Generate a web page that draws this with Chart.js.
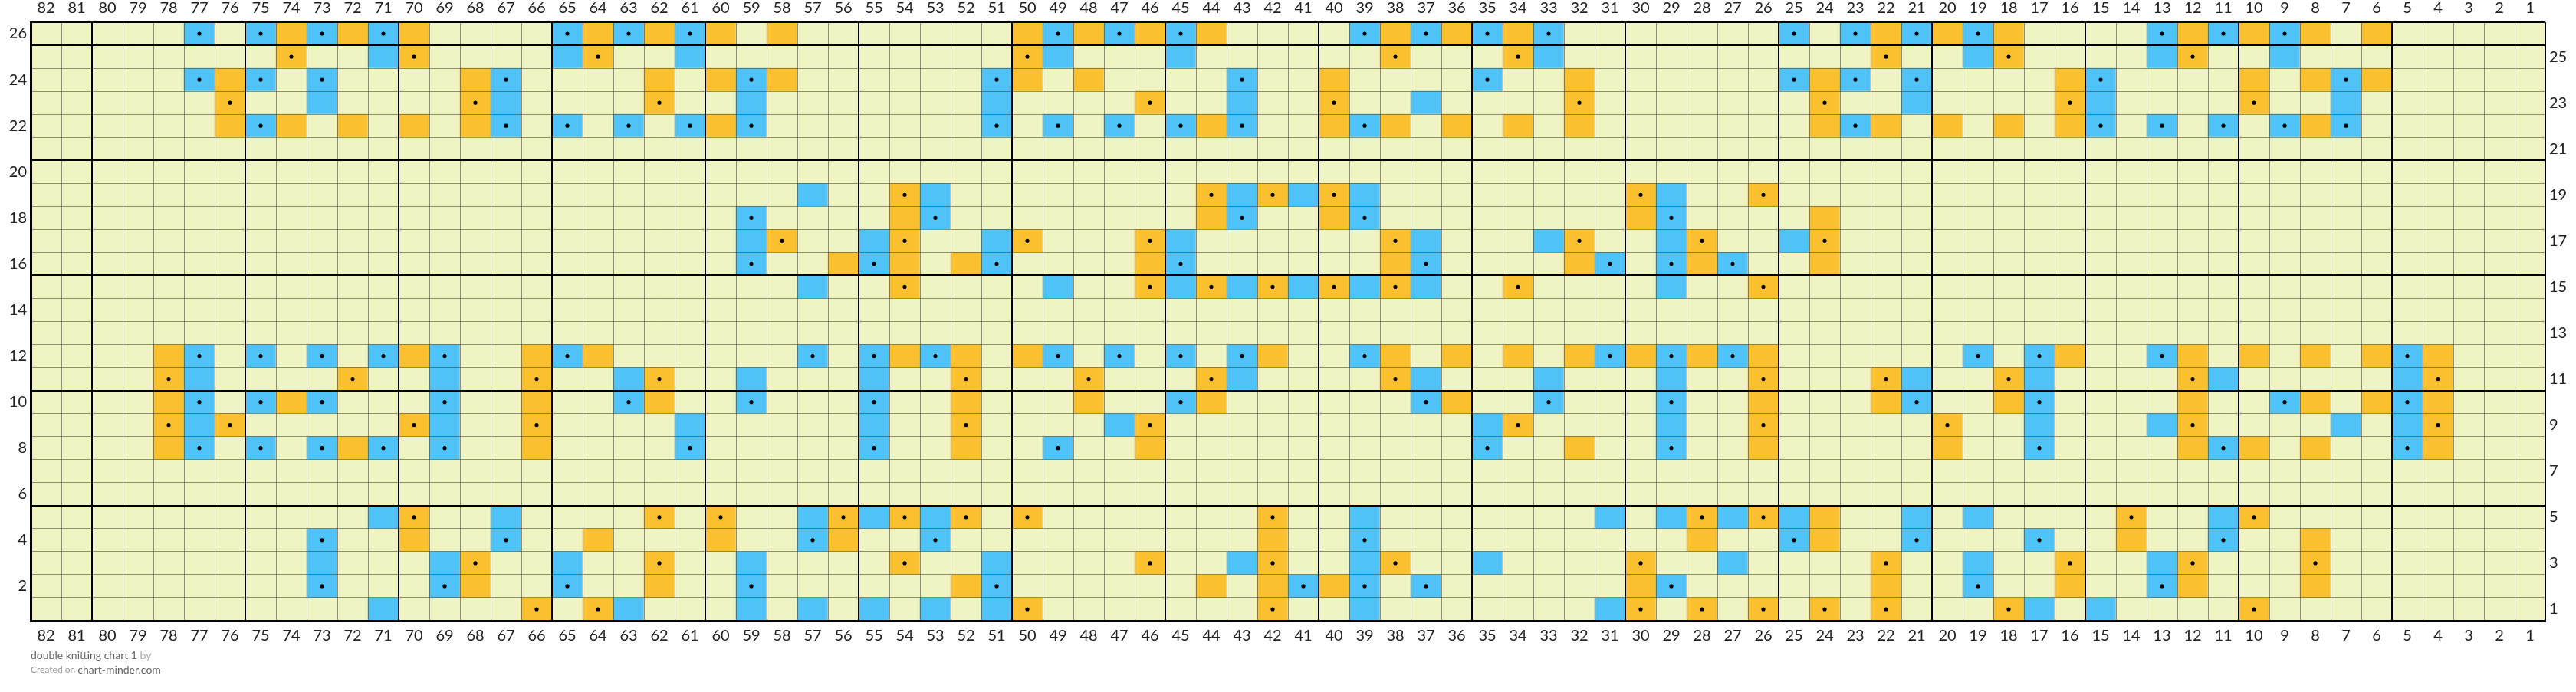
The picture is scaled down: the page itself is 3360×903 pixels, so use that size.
<!DOCTYPE html>
<html>
<head>
<meta charset="utf-8">
<title>double knitting chart 1</title>
<script src="https://cdn.jsdelivr.net/npm/chart.js@4.4.1/dist/chart.umd.min.js"></script>
<style>
  html, body { margin: 0; background: #fff; }
  #wrap { width: 3360px; height: 903px; }
</style>
</head>
<body>
<div id="wrap"><canvas id="chart"></canvas></div>
<script>
// column numbers, left to right
const columns = ["82","81","80","79","78","77","76","75","74","73","72","71","70","69","68","67","66","65","64","63","62",
  "61","60","59","58","57","56","55","54","53","52","51","50","49","48","47","46","45","44","43","42","41",
  "40","39","38","37","36","35","34","33","32","31","30","29","28","27","26","25","24","23","22","21",
  "20","19","18","17","16","15","14","13","12","11","10","9","8","7","6","5","4","3","2","1"];
const leftRowLabels = [26, 24, 22, 20, 18, 16, 14, 12, 10, 8, 6, 4, 2];
const rightRowLabels = [25, 23, 21, 19, 17, 15, 13, 11, 9, 7, 5, 3, 1];

// one string per row, row 1 first. b = blue, o = orange, capital = with dot
const stitchRows = [
  "b71 O66 O64 b63 b59 b57 b55 b53 b51 O50 O42 b39 b31 O30 O28 O26 O24 O22 O18 b17 b15 O10",
  "B73 B69 o68 B65 o62 B59 o52 B51 o44 o42 B41 o40 B39 B37 o30 B29 o22 B19 o16 B13 o12 o8",
  "b73 b69 O68 b65 O62 b59 O54 b51 O46 b43 O42 b39 O38 b35 O30 b27 O22 b19 O16 b13 O12 O8",
  "B73 o70 B67 o64 o60 B57 o56 B53 o42 B39 o28 B25 o24 B21 B17 o14 B11 o8",
  "b71 O70 b67 O62 O60 b57 O56 b55 O54 b53 O52 O50 O42 b39 b31 b29 O28 b27 O26 b25 o24 b21 b19 O14 b11 O10",
  "",
  "",
  "o78 B77 B75 B73 o72 B71 B69 o66 B61 B55 o52 B49 o46 B35 o32 B29 o26 o20 B17 o12 B11 o10 o8 B5 o4",
  "O78 b77 O76 O70 b69 O66 b61 b55 O52 b47 O46 b35 O34 b29 O26 O20 b17 b13 O12 b7 b5 O4",
  "o78 B77 B75 o74 B73 B69 o66 B63 o62 B59 B55 o52 o48 B45 o44 B37 o36 B33 B29 o26 o22 B21 o18 B17 o12 B9 o8 o6 B5 o4",
  "O78 b77 O72 b69 O66 b63 O62 b59 b55 O52 O48 O44 b43 O38 b37 b33 b29 O26 O22 b21 O18 b17 O12 b11 b5 O4",
  "o78 B77 B75 B73 B71 o70 B69 o66 B65 o64 B57 B55 o54 B53 o52 o50 B49 B47 B45 B43 o42 B39 o38 o36 o34 o32 B31 o30 B29 o28 B27 o26 B19 B17 o16 B13 o12 o10 o8 o6 B5 o4",
  "",
  "",
  "b57 O54 b49 O46 b45 O44 b43 O42 b41 O40 b39 O38 b37 O34 b29 O26",
  "B59 o56 B55 o54 o52 B51 o46 B45 o38 B37 o32 B31 B29 o28 B27 o24",
  "b59 O58 b55 O54 b51 O50 O46 b45 O38 b37 b33 O32 b29 O28 b25 O24",
  "B59 o54 B53 o44 B43 o40 B39 o30 B29 o24",
  "b57 O54 b53 O44 b43 O42 b41 O40 b39 O30 b29 O26",
  "",
  "",
  "o76 B75 o74 o72 o70 o68 B67 B65 B63 B61 o60 B59 B51 B49 B47 B45 o44 B43 o40 B39 o38 o36 o34 o32 o24 B23 o22 o20 o18 o16 B15 B13 B11 B9 o8 B7",
  "O76 b73 O68 b67 O62 b59 b51 O46 b43 O40 b37 O32 O24 b21 O16 b15 O10 b7",
  "B77 o76 B75 B73 o68 B67 o62 o60 B59 o58 B51 o50 o48 B43 o40 B35 o32 B25 o24 B23 B21 o16 B15 o10 o8 B7 o6",
  "O74 b71 O70 b65 O64 b61 O50 b49 b45 O38 O34 b33 O22 b19 O18 b13 O12 b9",
  "B77 B75 o74 B73 o72 B71 o70 B65 o64 B63 o62 B61 o60 o58 o50 B49 o48 B47 o46 B45 o44 B39 o38 B37 o36 B35 o34 B33 B25 B23 o22 B21 o20 B19 o18 B13 o12 B11 o10 B9 o8 o6"
];

const yarn = { b: "#4fc3f7", o: "#fbc02d", empty: "#f0f4c3" };
const FONT = "Lato";
const thinLine = "rgba(60,60,40,0.55)";

// turn "B77 o76" into { "77": "B", "76": "o" }
function parseRow(str) {
  const cells = {};
  str.split(/\s+/).filter(Boolean).forEach(t => { cells[t.slice(1)] = t[0]; });
  return cells;
}
const rows = stitchRows.map(parseRow);

// one stacked bar per cell, a dataset per row
const rowSets = rows.map((cells, r) => ({
  type: "bar",
  label: "row " + (r + 1),
  data: columns.map(() => 1),
  backgroundColor: columns.map(c => {
    const k = (cells[c] || "").toLowerCase();
    return k ? yarn[k] : yarn.empty;
  }),
  borderWidth: 0,
  barPercentage: 1,
  categoryPercentage: 1,
  stack: "rows",
  order: 2
}));

// dotted stitches, placed by column label and row centre
const dots = [];
rows.forEach((cells, r) => {
  Object.keys(cells).forEach(c => {
    if (cells[c] === "B" || cells[c] === "O") dots.push({ x: c, y: r + 0.5 });
  });
});

const thick = (v, last) => v === 0 || v === last || v % 5 === 0;
const colLine = c => (c.index === undefined ? 82 : c.index);

const caption = {
  id: "caption",
  afterDraw(chart) {
    const ctx = chart.ctx;
    const x0 = chart.chartArea.left;
    ctx.save();
    ctx.textBaseline = "middle";
    ctx.font = "14px " + FONT;
    ctx.fillStyle = "#666";
    const t1 = "double knitting chart 1";
    ctx.fillText(t1, x0, 855);
    const w1 = ctx.measureText(t1 + " ").width;
    ctx.fillStyle = "#aaa";
    ctx.fillText("by", x0 + w1, 855);
    ctx.font = "12px " + FONT;
    ctx.fillStyle = "#999";
    const t2 = "Created on ";
    ctx.fillText(t2, x0, 874);
    const w2 = ctx.measureText(t2).width;
    ctx.font = "14px " + FONT;
    ctx.fillStyle = "#666";
    ctx.fillText("chart-minder.com", x0 + w2, 874);
    ctx.restore();
  }
};

const rowTicks = s => {
  const t = [];
  for (let v = 0; v <= 26; v += 0.5) t.push({ value: v });
  s.ticks = t;
};

new Chart(document.getElementById("chart"), {
  type: "bar",
  data: {
    labels: columns,
    datasets: [
      ...rowSets,
      {
        type: "line",
        label: "dots",
        data: dots,
        yAxisID: "yr",
        showLine: false,
        pointRadius: 2.6,
        pointHoverRadius: 2.6,
        pointBackgroundColor: "#000",
        pointBorderWidth: 0,
        order: 1
      }
    ]
  },
  options: {
    responsive: true,
    maintainAspectRatio: false,
    animation: false,
    events: [],
    layout: { padding: { top: 0, left: 0, right: 0, bottom: 50 } },
    plugins: { legend: { display: false }, tooltip: { enabled: false } },
    scales: {
      x: {
        type: "category",
        stacked: true,
        position: "bottom",
        afterFit: s => { s.height = 43; },
        border: { display: true, width: 3, color: "#000", z: 2 },
        grid: {
          z: 1,
          offset: true,
          drawTicks: false,
          lineWidth: c => (thick(82 - colLine(c), 82) || colLine(c) === 0 ? 2 : 1),
          color: c => (thick(82 - colLine(c), 82) || colLine(c) === 0 ? "#000" : thinLine)
        },
        ticks: { autoSkip: false, maxRotation: 0, padding: 8, color: "#222", font: { family: FONT, size: 20 } }
      },
      xTop: {
        type: "category",
        position: "top",
        labels: columns,
        afterFit: s => { s.height = 29; },
        border: { display: false },
        grid: { display: false, drawTicks: false },
        ticks: { autoSkip: false, maxRotation: 0, padding: 6, color: "#222", font: { family: FONT, size: 20 } }
      },
      y: {
        type: "linear",
        stacked: true,
        position: "left",
        min: 0,
        max: 26,
        afterBuildTicks: rowTicks,
        afterFit: s => { s.width = 40; },
        border: { display: true, width: 3, color: "#000", z: 2 },
        grid: {
          z: 1,
          drawTicks: false,
          lineWidth: c => {
            const v = c.tick.value;
            if (v % 1 !== 0) return 0;
            return thick(v, 26) ? 2 : 1;
          },
          color: c => (thick(c.tick.value, 26) ? "#000" : thinLine)
        },
        ticks: {
          autoSkip: false,
          padding: 5,
          color: "#222",
          font: { family: FONT, size: 20 },
          callback: v => (leftRowLabels.includes(v + 0.5) ? String(v + 0.5) : "")
        }
      },
      yr: {
        type: "linear",
        position: "right",
        min: 0,
        max: 26,
        afterBuildTicks: rowTicks,
        afterFit: s => { s.width = 40; },
        border: { display: false },
        grid: { display: false, drawTicks: false },
        ticks: {
          autoSkip: false,
          padding: 5,
          color: "#222",
          font: { family: FONT, size: 20 },
          callback: v => (rightRowLabels.includes(v + 0.5) ? String(v + 0.5) : "")
        }
      }
    }
  },
  plugins: [caption]
});
</script>
</body>
</html>
